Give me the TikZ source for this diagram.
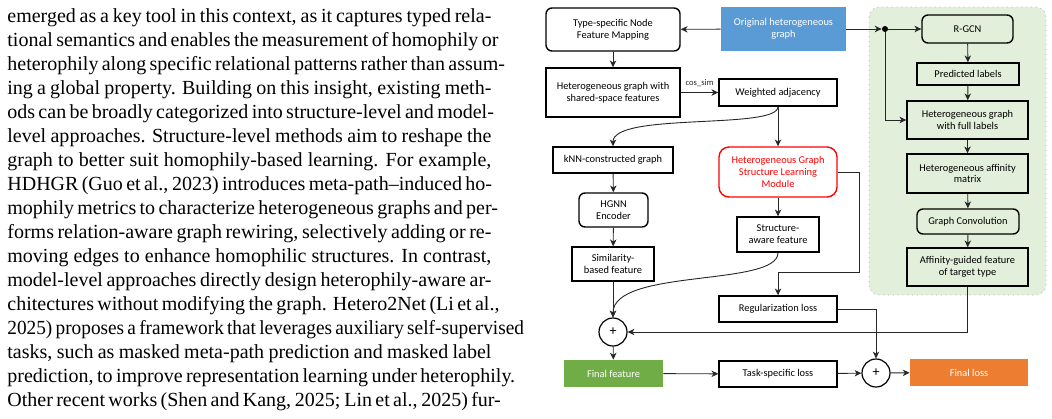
\documentclass[tikz,border=0pt]{standalone}
\usepackage{fontspec}
\usepackage{graphicx}
\setmainfont{Carlito}
\newfontfamily\bodyfont{Liberation Serif}
\usetikzlibrary{arrows.meta}

\definecolor{origblue}{HTML}{5B9BD5}
\definecolor{finalgreen}{HTML}{70AD47}
\definecolor{lossorange}{HTML}{ED7D31}
\definecolor{panelgreen}{HTML}{E2EFDA}

\newcommand{\tline}[1]{\hbox to 242pt{#1}}
\hfuzz=40pt

\begin{document}
\begin{tikzpicture}[x=0.5pt, y=-0.5pt, font=\fontsize{5.2}{5.9}\selectfont,
    box/.style={draw, line width=0.7pt, inner sep=0pt, align=center},
    rbox/.style={box, rounded corners=3pt},
    plusnode/.style={draw, line width=0.6pt, circle, inner sep=0pt, minimum size=14pt, font=\fontsize{7}{7}\selectfont},
    arr/.style={-{Stealth[length=3.4pt, width=3.2pt, inset=1pt]}, line width=0.45pt, black!85}]
  \useasboundingbox (0,0) rectangle (1052,418);

  % text column beside the figure
  \node[anchor=base west, inner sep=0pt] (para) at (7,22.5) {\parbox[t]{242pt}{\bodyfont\fontsize{10}{12}\selectfont
    \tline{emerged as a key tool in this context, as it captures typed rela-}
    \tline{tional semantics and enables the measurement of homophily or}
    \tline{heterophily along specific relational patterns rather than assum-}
    \tline{ing a global property.  Building on this insight, existing meth-}
    \tline{ods can be broadly categorized into structure-level and model-}
    \tline{level approaches.  Structure-level methods aim to reshape the}
    \tline{graph to better suit homophily-based learning.  For example,}
    \tline{HDHGR (Guo et al., 2023) introduces meta-path–induced ho-}
    \tline{mophily metrics to characterize heterogeneous graphs and per-}
    \tline{forms relation-aware graph rewiring, selectively adding or re-}
    \tline{moving edges to enhance homophilic structures.  In contrast,}
    \tline{model-level approaches directly design heterophily-aware ar-}
    \tline{chitectures without modifying the graph. Hetero2Net (Li et al.,}
    % the overfull line runs past the margin, a little squeezed
    \tline{\scalebox{0.965}[1]{\hbox to 267pt{2025) proposes a framework that leverages auxiliary self-supervised}}\hss}
    \tline{tasks, such as masked meta-path prediction and masked label}
    \tline{prediction, to improve representation learning under heterophily.}
    \tline{Other recent works (Shen and Kang, 2025; Lin et al., 2025) fur-}}};

  % label-propagation branch (green panel)
  \draw[black!30, dotted, fill=panelgreen, rounded corners=5pt] (869,7) rectangle (1046,295);
  \node[rbox, minimum width=45.5pt, minimum height=14pt] (rgcn) at (967.5,29) {R-GCN};
  \node[box, minimum width=51pt, minimum height=11pt] (pred) at (968,74) {Predicted labels};
  \node[box, minimum width=60.5pt, minimum height=19pt] (full) at (967.5,120) {Heterogeneous graph\\with full labels};
  \node[box, minimum width=60.5pt, minimum height=19.5pt] (aff) at (967.5,173.5) {Heterogeneous affinity\\matrix};
  \node[rbox, minimum width=51pt, minimum height=12.5pt] (gconv) at (968,221.5) {Graph Convolution};
  \node[box, minimum width=60.5pt, minimum height=19pt] (agf) at (967.5,267) {Affinity-guided feature\\of target type};

  % input side
  \node[fill=origblue, text=white, align=center, inner sep=0pt, minimum width=62.5pt, minimum height=22pt] (orig) at (783.5,29) {Original heterogeneous\\graph};
  \node[rbox, minimum width=67pt, minimum height=21.5pt] (map) at (613,29.5) {Type-specific Node\\Feature Mapping};
  \node[box, minimum width=67pt, minimum height=24.5pt] (shared) at (613,92.5) {Heterogeneous graph with\\shared-space features};
  \node[box, minimum width=59pt, minimum height=13.5pt] (wadj) at (778,92.5) {Weighted adjacency};
  \node[fill, circle, inner sep=0pt, minimum size=3pt] (split) at (885,29) {};

  % two feature branches
  \node[box, minimum width=60pt, minimum height=13pt] (knn) at (613,160) {kNN-constructed graph};
  \node[rbox, minimum width=34.5pt, minimum height=17pt] (hgnn) at (613.5,210) {HGNN\\Encoder};
  \node[box, minimum width=41pt, minimum height=17pt] (simf) at (613,264) {Similarity-\\based feature};
  \node[rbox, draw=red, text=red, rounded corners=5pt, minimum width=59pt, minimum height=25pt] (hgsl) at (778,172) {Heterogeneous Graph\\Structure Learning\\Module};
  \node[box, minimum width=41pt, minimum height=17.5pt] (saf) at (778,234.5) {Structure-\\aware feature};
  \node[box, minimum width=59pt, minimum height=13pt] (regl) at (778,309) {Regularization loss};

  % fusion and losses
  \node[plusnode] (plusa) at (613,332) {+};
  \node[fill=finalgreen, text=white, inner sep=0pt, minimum width=49.5pt, minimum height=13.5pt] (ffeat) at (613.5,373.5) {Final feature};
  \node[box, minimum width=59pt, minimum height=13pt] (task) at (778,374) {Task-specific loss};
  \node[plusnode] (plusb) at (876,373) {+};
  \node[fill=lossorange, text=white, inner sep=0pt, minimum width=59pt, minimum height=13.5pt] (floss) at (969,372.5) {Final loss};

  \draw[arr] (orig) -- (map);
  \draw[arr] (orig) -- (split);
  \draw[arr] (split) -- (rgcn);
  \draw[arr] (split) |- (full);
  \draw[arr] (rgcn) -- (pred);
  \draw[arr] (pred) -- (full);
  \draw[arr] (full) -- (aff);
  \draw[arr] (aff) -- (gconv);
  \draw[arr] (gconv) -- (agf);
  \draw[arr] (agf.south) |- (plusa.east);

  \draw[arr] (map) -- (shared);
  \draw[arr] (shared) -- node[above, font=\fontsize{4.3}{5}\selectfont, yshift=-0.5pt] {cos\_sim} (wadj);
  \draw[arr] (wadj.south) .. controls (778,130) and (613,112) .. (knn.north);
  \draw[arr] (wadj) -- (hgsl);
  \draw[arr] (knn) -- (hgnn);
  \draw[arr] (hgnn) -- (simf);
  \draw[arr] (simf) -- (plusa);
  \draw[arr] (hgsl) -- (saf);
  \draw[arr] (saf.south) .. controls (778,287) and (613,268) .. (plusa.north);
  \draw[arr] (hgsl.east) -| (859,272) -| (regl.north);
  \draw[arr] (regl.east) -| (plusb.north);

  \draw[arr] (plusa) -- (ffeat);
  \draw[arr] (ffeat) -- (task);
  \draw[arr] (task) -- (plusb);
  \draw[arr] (plusb) -- (floss);
\end{tikzpicture}
\end{document}
